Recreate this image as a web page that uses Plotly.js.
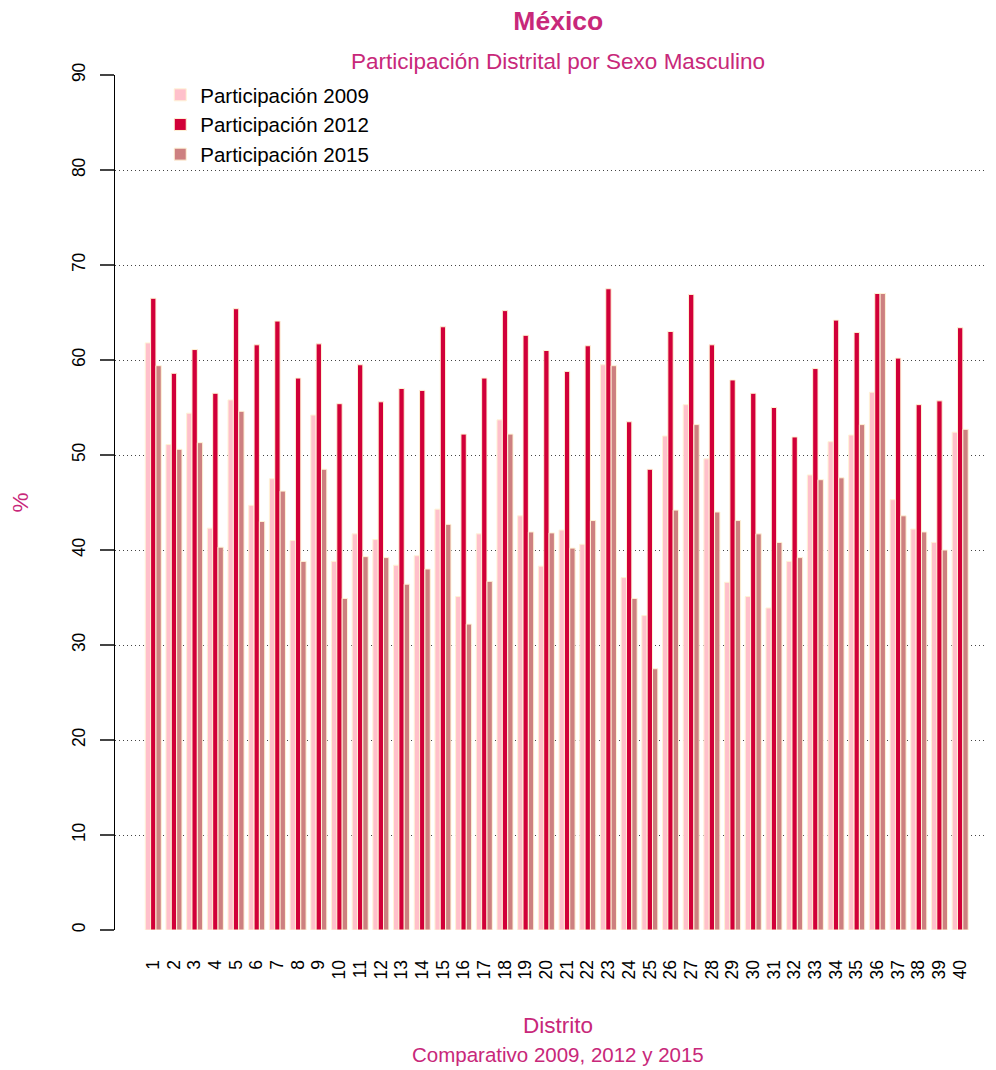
<!DOCTYPE html>
<html>
<head>
<meta charset="utf-8">
<script src="https://cdn.plot.ly/plotly-3.0.1.min.js"></script>
<style>html,body{margin:0;padding:0;background:#fff;}#chart{width:996px;height:1070px;}</style>
</head>
<body>
<div id="chart"></div>
<script>
const distritos = ["1","2","3","4","5","6","7","8","9","10","11","12","13","14","15","16","17","18","19","20",
"21","22","23","24","25","26","27","28","29","30","31","32","33","34","35","36","37","38","39","40"];
const part2009 = [61.8,51.1,54.4,42.3,55.8,44.7,47.5,41.0,54.2,38.8,41.7,41.1,38.4,39.4,44.3,35.1,41.7,53.7,43.6,38.3,
42.1,40.6,59.5,37.1,33.1,52.0,55.3,49.6,36.6,35.1,33.9,38.8,47.9,51.4,52.1,56.6,45.3,42.2,40.8,52.4];
const part2012 = [66.5,58.6,61.1,56.5,65.4,61.6,64.1,58.1,61.7,55.4,59.5,55.6,57.0,56.8,63.5,52.2,58.1,65.2,62.6,61.0,
58.8,61.5,67.5,53.5,48.5,63.0,66.9,61.6,57.9,56.5,55.0,51.9,59.1,64.2,62.9,67.0,60.2,55.3,55.7,63.4];
const part2015 = [59.4,50.6,51.3,40.3,54.6,43.0,46.2,38.8,48.5,34.9,39.3,39.2,36.4,38.0,42.7,32.2,36.7,52.2,41.9,41.8,
40.2,43.1,59.4,34.9,27.5,44.2,53.2,44.0,43.1,41.7,40.8,39.2,47.4,47.6,53.2,67.0,43.6,41.9,40.0,52.7];
const seriesNames = ["Participación 2009","Participación 2012","Participación 2015"];
const seriesColors = ["#FFC0CB","#D10038","#CD8080"];
const titleColor = "#C8287A";

const xs = distritos.map(Number);
const values = [part2009, part2012, part2015];
const traces = values.map((v, i) => ({
  type: "bar",
  x: xs,
  y: v,
  name: seriesNames[i],
  marker: {color: seriesColors[i], line: {color: "#FFF3D6", width: 1}},
  hoverinfo: "x+y+name"
}));

const layout = {
  width: 996, height: 1070,
  paper_bgcolor: "#fff", plot_bgcolor: "#fff",
  margin: {l: 115, r: 11, t: 75, b: 140},
  font: {family: "Liberation Sans, Arial, sans-serif", size: 17, color: "#000"},
  title: {text: "<b>México</b>", font: {size: 26.5, color: titleColor}, x: 0.5095, xref: "paper", xanchor: "center", y: 0.981, yref: "container", yanchor: "middle"},
  barmode: "group",
  bargap: 0.225,
  bargroupgap: 0,
  showlegend: true,
  legend: {x: 0.052, y: 1.0, xanchor: "left", yanchor: "top", bgcolor: "rgba(0,0,0,0)", font: {size: 20.5, color: "#000"}, tracegroupgap: 0, itemwidth: 30},
  xaxis: {
    range: [-0.85, 41.2],
    tickmode: "array",
    tickvals: xs,
    ticktext: distritos,
    tickangle: -90,
    ticks: "outside",
    ticklen: 22,
    tickcolor: "rgba(0,0,0,0)",
    tickfont: {size: 17.5, color: "#000"},
    showline: false, zeroline: false, showgrid: false,
    fixedrange: true
  },
  yaxis: {
    range: [0, 90],
    tickmode: "array",
    tickvals: [0,10,20,30,40,50,60,70,80,90],
    tickangle: -90,
    ticks: "outside",
    ticklen: 14,
    tickwidth: 2,
    tickcolor: "#444",
    ticklabelstandoff: 8,
    tickfont: {size: 17.5, color: "#000"},
    showline: true, linecolor: "#000", linewidth: 1,
    showgrid: true, gridcolor: "#444", griddash: "1px,3px", gridwidth: 1,
    zeroline: false,
    fixedrange: true
  },
  annotations: [
    {text: "Participación Distrital por Sexo Masculino", xref: "paper", yref: "paper", x: 0.5095, y: 1.0, yshift: 14, xanchor: "center", yanchor: "middle", showarrow: false, font: {size: 22.5, color: titleColor}},
    {text: "%", xref: "paper", yref: "paper", x: 0, xshift: -95, y: 0.5, xanchor: "center", yanchor: "middle", textangle: -90, showarrow: false, font: {size: 22.5, color: titleColor}},
    {text: "Distrito", xref: "paper", yref: "paper", x: 0.5095, y: 0, yshift: -95, xanchor: "center", yanchor: "middle", showarrow: false, font: {size: 22.5, color: titleColor}},
    {text: "Comparativo 2009, 2012 y 2015", xref: "paper", yref: "paper", x: 0.5095, y: 0, yshift: -124, xanchor: "center", yanchor: "middle", showarrow: false, font: {size: 20.5, color: titleColor}}
  ]
};

Plotly.newPlot("chart", traces, layout, {displayModeBar: false, staticPlot: true});
</script>
</body>
</html>
